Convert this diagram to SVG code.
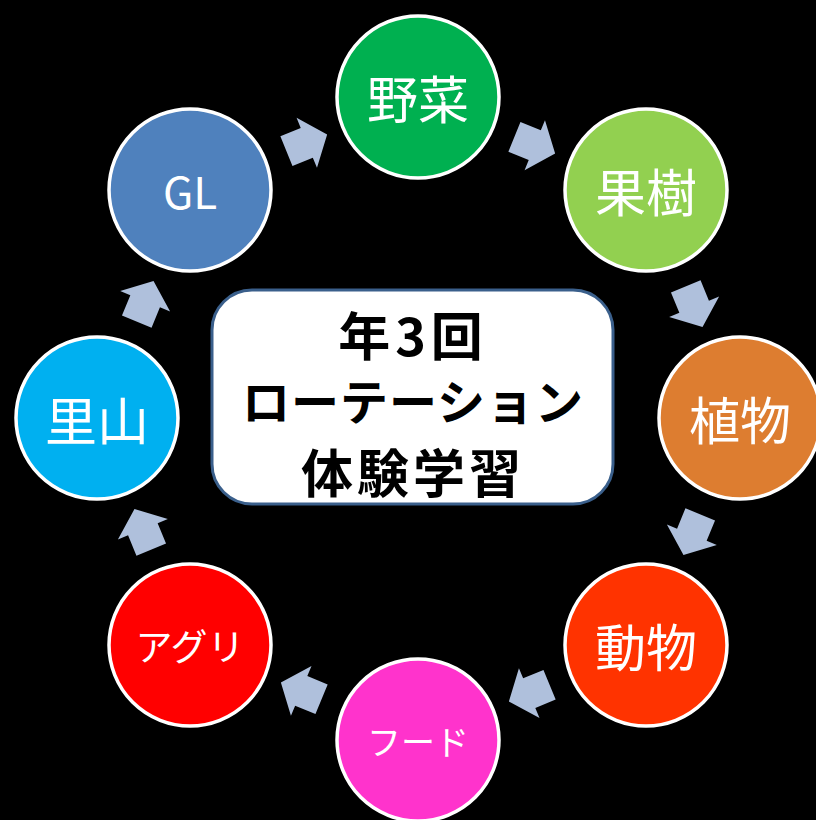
<svg xmlns="http://www.w3.org/2000/svg" width="816" height="820" viewBox="0 0 816 820">
<defs>
<style>
.c{stroke:#FFFFFF;stroke-width:3.5}
.t{fill:#FFFFFF;font-family:"Noto Sans CJK JP","Noto Sans",sans-serif;text-anchor:middle;dominant-baseline:central}
.m{fill:#000000;font-family:"Noto Sans CJK JP",sans-serif;font-weight:bold;text-anchor:middle;dominant-baseline:central}
.a{fill:#AFC0DC}
</style>
<path id="arr" d="M-19,-16 L3,-16 L3,-27 L25,0 L3,27 L3,16 L-19,16 Z"/>
</defs>
<rect x="0" y="0" width="816" height="820" fill="#000000"/>
<g id="connectors">
<use href="#arr" class="a" transform="translate(304,144) rotate(-22.2)"/>
<use href="#arr" class="a" transform="translate(532,144) rotate(22.2)"/>
<use href="#arr" class="a" transform="translate(693,304) rotate(67.6)"/>
<use href="#arr" class="a" transform="translate(693,532) rotate(112.4)"/>
<use href="#arr" class="a" transform="translate(532,692) rotate(157.6)"/>
<use href="#arr" class="a" transform="translate(304,692) rotate(-157.6)"/>
<use href="#arr" class="a" transform="translate(144,532) rotate(-112.4)"/>
<use href="#arr" class="a" transform="translate(144,304) rotate(-67.6)"/>
</g>
<g id="center">
<rect x="212" y="290" width="401" height="214" rx="40" fill="#FFFFFF" stroke="#3A5F8B" stroke-width="3"/>
<text class="m" x="413" y="333" font-size="52" letter-spacing="5">年3回</text>
<text class="m" x="413" y="399" font-size="48" letter-spacing="1">ローテーション</text>
<text class="m" x="413" y="470" font-size="52" letter-spacing="4">体験学習</text>
</g>
<g id="n-yasai"><circle class="c" cx="418" cy="97" r="81" fill="#00B050"/><text class="t" x="418" y="97" font-size="51">野菜</text></g>
<g id="n-kaju"><circle class="c" cx="646" cy="190" r="81" fill="#92D050"/><text class="t" x="646" y="190" font-size="51">果樹</text></g>
<g id="n-shokubutsu"><circle class="c" cx="740" cy="418" r="81" fill="#DD7D30"/><text class="t" x="740" y="418" font-size="51">植物</text></g>
<g id="n-doubutsu"><circle class="c" cx="646" cy="645" r="81" fill="#FF3300"/><text class="t" x="646" y="645" font-size="51">動物</text></g>
<g id="n-food"><circle class="c" cx="418" cy="740" r="81" fill="#FF33CC"/><text class="t" x="418" y="740" font-size="34">フード</text></g>
<g id="n-agri"><circle class="c" cx="190" cy="645" r="81" fill="#FF0000"/><text class="t" x="190" y="645" font-size="37">アグリ</text></g>
<g id="n-satoyama"><circle class="c" cx="97" cy="418" r="81" fill="#00B0F0"/><text class="t" x="97" y="418" font-size="52">里山</text></g>
<g id="n-gl"><circle class="c" cx="190" cy="190" r="81" fill="#4F81BD"/><text class="t" x="190" y="190" font-size="44">GL</text></g>
</svg>
